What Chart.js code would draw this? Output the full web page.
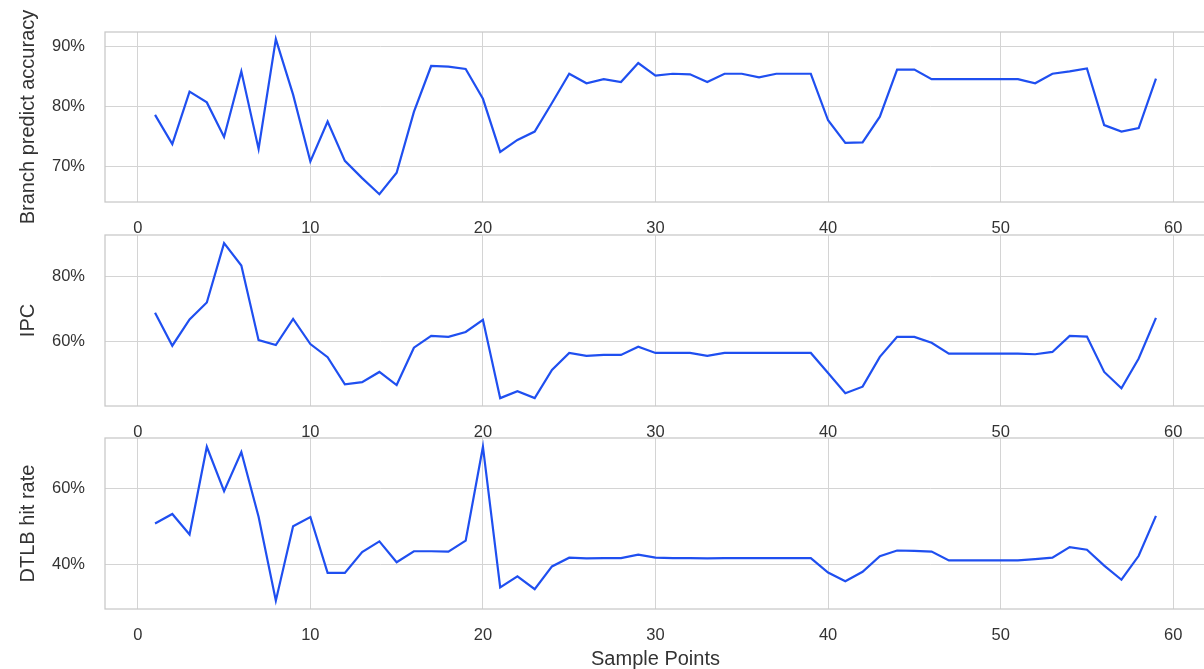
<!DOCTYPE html>
<html>
<head>
<meta charset="utf-8">
<script src="https://cdn.jsdelivr.net/npm/chart.js@4.4.1/dist/chart.umd.min.js"></script>
<style>
  html, body { margin: 0; padding: 0; background: #fff; overflow: hidden; width: 1204px; height: 669px; }
  .panel { position: absolute; left: 0; width: 1206px; }
</style>
</head>
<body>
<div class="panel" style="top:0;height:245px"><canvas id="chartBranch"></canvas></div>
<div class="panel" style="top:205px;height:244px"><canvas id="chartIpc"></canvas></div>
<div class="panel" style="top:408px;height:261px"><canvas id="chartDtlb"></canvas></div>
<script>
// sample index (x axis)
const samplePoints = [1, 2, 3, 4, 5, 6, 7, 8, 9, 10, 11, 12, 13, 14, 15, 16, 17, 18, 19, 20,
    21, 22, 23, 24, 25, 26, 27, 28, 29, 30, 31, 32, 33, 34, 35, 36, 37, 38, 39, 40,
    41, 42, 43, 44, 45, 46, 47, 48, 49, 50, 51, 52, 53, 54, 55, 56, 57, 58, 59];

// values in %
const branchAcc = [78.6, 73.7, 82.5, 80.7, 74.9, 85.9, 72.9, 91.3, 82.0, 70.8,
    77.5, 70.9, 68.0, 65.3, 68.9, 79.1, 86.8, 86.7, 86.3, 81.3,
    72.4, 74.4, 75.8, 80.6, 85.5, 83.9, 84.6, 84.1, 87.3, 85.2,
    85.5, 85.4, 84.1, 85.5, 85.5, 84.9, 85.5, 85.5, 85.5, 77.7,
    73.9, 74.0, 78.3, 86.2, 86.2, 84.6, 84.6, 84.6, 84.6, 84.6,
    84.6, 83.9, 85.5, 85.9, 86.4, 76.9, 75.8, 76.4, 84.7];

const ipc = [68.9, 58.8, 66.8, 72.0, 90.1, 83.3, 60.5, 59.0, 67.0, 59.3,
    55.3, 47.0, 47.7, 50.8, 46.8, 58.2, 61.8, 61.5, 63.0, 66.7,
    42.8, 44.9, 42.8, 51.4, 56.6, 55.7, 56.0, 56.0, 58.5, 56.6,
    56.6, 56.6, 55.7, 56.6, 56.6, 56.6, 56.6, 56.6, 56.6, 50.5,
    44.3, 46.3, 55.4, 61.5, 61.5, 59.7, 56.4, 56.4, 56.4, 56.4,
    56.4, 56.2, 56.9, 61.8, 61.6, 50.8, 45.8, 54.9, 67.3];

const dtlbHit = [50.7, 53.2, 47.8, 70.9, 59.2, 69.5, 52.5, 30.4, 50.0, 52.4,
    37.7, 37.7, 43.2, 46.0, 40.5, 43.4, 43.4, 43.3, 46.2, 70.9,
    33.9, 36.8, 33.4, 39.4, 41.7, 41.5, 41.6, 41.6, 42.5, 41.7,
    41.6, 41.6, 41.5, 41.6, 41.6, 41.6, 41.6, 41.6, 41.6, 37.8,
    35.5, 38.0, 42.1, 43.6, 43.5, 43.3, 41.0, 41.0, 41.0, 41.0,
    41.0, 41.3, 41.7, 44.5, 43.8, 39.6, 35.9, 42.2, 52.7];

// tick labels
const xTicks = [0, 10, 20, 30, 40, 50, 60];
const branchTicks = [70, 80, 90];
const ipcTicks = [60, 80];
const dtlbTicks = [40, 60];

Chart.defaults.font.family = "'Liberation Sans', Arial, sans-serif";
Chart.defaults.color = '#333333';

const GRID = '#d4d4d4';
const LINE = '#1f4ff0';

// frame around the plot area (matplotlib spines)
const frame = {
    id: 'frame',
    beforeDatasetsDraw(chart) {
        const a = chart.chartArea;
        const c = chart.ctx;
        c.save();
        c.strokeStyle = '#c8c8c8';
        c.lineWidth = 1.25;
        c.strokeRect(a.left, a.top, a.right - a.left, a.bottom - a.top);
        c.restore();
    }
};

function makeChart(id, values, yLabel, yMin, yMax, yTicks, padTop, xHeight, xTitle) {
    const ctx = document.getElementById(id).getContext('2d');
    return new Chart(ctx, {
        type: 'line',
        data: {
            datasets: [{
                data: samplePoints.map((x, i) => ({ x: x, y: values[i] })),
                borderColor: LINE,
                borderWidth: 2.2,
                pointRadius: 0,
                tension: 0,
                fill: false,
            }]
        },
        options: {
            responsive: true,
            maintainAspectRatio: false,
            animation: false,
            layout: { padding: { top: padTop, left: 0, right: 0, bottom: 0 } },
            plugins: { legend: { display: false }, tooltip: { enabled: false } },
            scales: {
                x: {
                    type: 'linear',
                    min: -1.9,
                    max: 61.9,
                    afterBuildTicks: s => { s.ticks = xTicks.map(v => ({ value: v })); },
                    afterFit: s => { s.height = xHeight; },
                    grid: { color: GRID, lineWidth: 1, drawTicks: false },
                    border: { display: false },
                    ticks: { padding: 17, font: { size: 16.5 }, color: '#333333', maxRotation: 0 },
                    title: {
                        display: !!xTitle,
                        text: xTitle || '',
                        font: { size: 20, lineHeight: 1 },
                        padding: { top: 0, bottom: 0 },
                        color: '#333333'
                    }
                },
                y: {
                    min: yMin,
                    max: yMax,
                    afterBuildTicks: s => { s.ticks = yTicks.map(v => ({ value: v })); },
                    afterFit: s => { s.width = 105; },
                    grid: { color: GRID, lineWidth: 1, drawTicks: false },
                    border: { display: false },
                    ticks: { padding: 20, font: { size: 16.5 }, color: '#333333', callback: v => v + '%' },
                    title: {
                        display: true,
                        text: yLabel,
                        font: { size: 20, lineHeight: 1 },
                        padding: { top: 18, bottom: 0 },
                        color: '#333333'
                    }
                }
            }
        },
        plugins: [frame]
    });
}

makeChart('chartBranch', branchAcc, 'Branch predict accuracy', 64.0, 92.5, branchTicks, 32, 43, null);
makeChart('chartIpc', ipc, 'IPC', 40.4, 92.6, ipcTicks, 30, 43, null);
makeChart('chartDtlb', dtlbHit, 'DTLB hit rate', 28.2, 73.2, dtlbTicks, 30, 60, 'Sample Points');
</script>
</body>
</html>
